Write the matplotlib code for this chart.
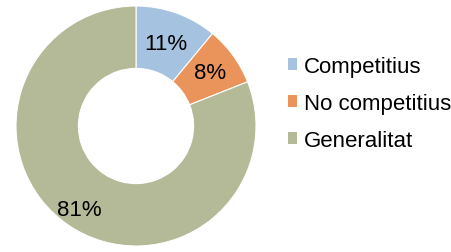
import numpy as np
import matplotlib
import matplotlib.pyplot as plt
from matplotlib.patches import Patch

matplotlib.use("Agg")
plt.rcParams["font.family"] = ["Liberation Sans", "DejaVu Sans"]

# Shares of each category (percent)
categories = ["Competitius", "No competitius", "Generalitat"]
shares = [11, 8, 81]
colors = ["#A5C2E0", "#EA935B", "#B4B998"]
label_radius = [0.73, 0.76, 0.84]

fig = plt.figure(figsize=(4.52, 2.53), dpi=100)
ax = fig.add_axes([16 / 452, 6 / 253, 240 / 452, 240 / 253])

wedges, texts, autotexts = ax.pie(
    shares,
    colors=colors,
    startangle=90,
    counterclock=False,
    radius=1.0,
    autopct=lambda p: f"{p:.0f}%",
    pctdistance=0.74,
    wedgeprops=dict(width=0.52, edgecolor="white", linewidth=0.8),
    textprops=dict(fontsize=16, color="black"),
)
# nudge the labels out along the middle of each wedge
for w, t, r in zip(wedges, autotexts, label_radius):
    mid = np.deg2rad((w.theta1 + w.theta2) / 2)
    t.set_position((r * np.cos(mid), r * np.sin(mid)))

ax.set_xlim(-1, 1)
ax.set_ylim(-1, 1)
ax.set_aspect("equal")
ax.axis("off")

handles = [Patch(facecolor=c, edgecolor="none") for c in colors]
fig.legend(
    handles,
    categories,
    loc="upper left",
    bbox_to_anchor=(288 / 452, 1 - 57 / 253),
    frameon=False,
    fontsize=16,
    handlelength=0.4,
    handleheight=0.4,
    handletextpad=0.3,
    labelspacing=0.72,
    borderaxespad=0,
    borderpad=0,
)

fig.savefig("out.png", dpi=100)
plt.close(fig)
